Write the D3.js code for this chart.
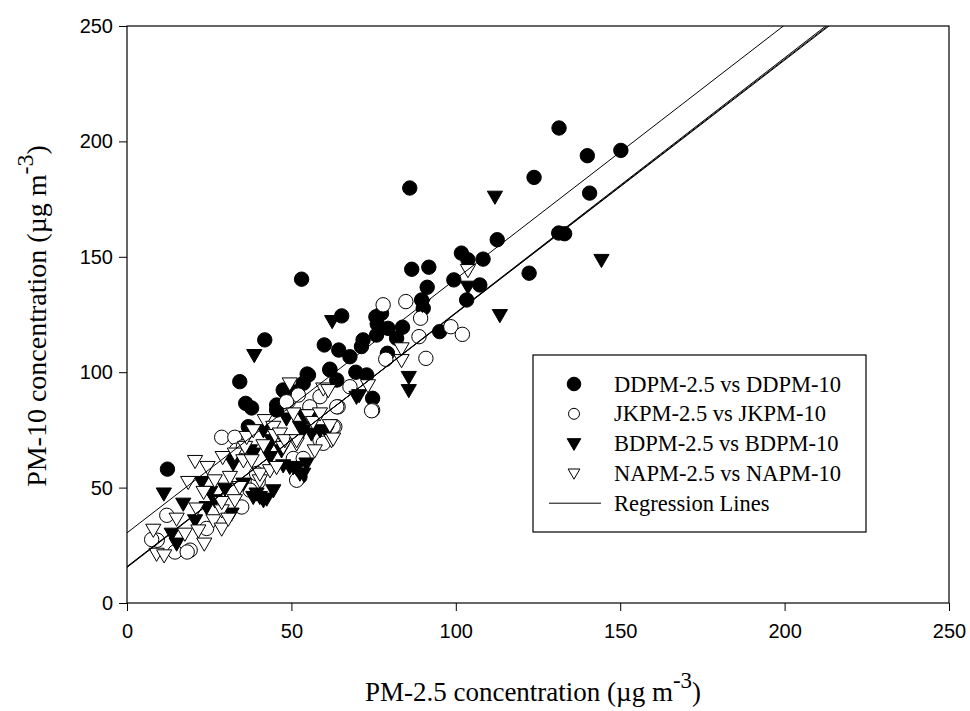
<!DOCTYPE html>
<html>
<head>
<meta charset="utf-8">
<script src="https://cdn.jsdelivr.net/npm/d3@7"></script>
<style>
  body { margin: 0; background: #fff; }
  .tick text { font-family: Arial, "Liberation Sans", sans-serif; font-size: 20px; }
  .title, .legend text { font-family: "Times New Roman", "Liberation Serif", serif; }
</style>
</head>
<body>
<div id="chart"></div>
<script>
// ---- data (PM-2.5, PM-10) ----
const ddpm = [[12.3,58],[34.3,95.9],[36.1,86.5],[37.9,84.5],[41.9,114],[36.9,76.4],[45.5,83.6],[48,91.5],[51.6,91.5],
  [53.6,95.2],[55.2,98.8],[55.6,80.7],[52.6,54.7],[53.1,140.3],[65.3,124.4],[60,111.8],[61.7,101],[63.8,96.6],[64.4,109.6],
  [67.8,106.7],[71.3,111.1],[71.8,114],[69.6,100],[72.9,98.8],[74.7,88.7],[75.7,124],[76.1,120.9],[77.4,125.5],[75.9,116.1],
  [79.4,119],[83.8,119.5],[82,114.7],[79.2,108.2],[86,179.8],[86.6,144.6],[91.8,145.5],[91.3,136.8],[89.6,131.3],[90.1,127.7],
  [95.1,117.6],[99.4,140],[101.7,151.6],[103.7,148.7],[108.3,149],[107.3,137.8],[103.3,131.3],[112.6,157.4],[122.3,142.9],
  [123.8,184.4],[131.4,205.8],[140,193.8],[150.2,196.1],[140.7,177.6],[131.3,160.3],[133.1,160],[47.5,92.3],[45.5,85.8],
  [54.8,99.2],[61.7,101.3]];
const jkpm = [[12.1,38],[9.2,27.2],[7.5,27.5],[14.6,22.1],[19.2,22.9],[18.3,22.1],[24.2,32.3],[28.8,71.8],[32.8,71.8],
  [33.3,66.2],[35.4,67.7],[34.9,41.6],[39.9,52.5],[39.4,56.1],[37.4,48.9],[49,87.2],[52.1,90.1],[55.6,85],[58.7,89.4],
  [64.2,85],[63.2,76.4],[58.7,70.6],[59.7,69.2],[62.7,76.4],[67.8,93.7],[50.6,62.6],[53.6,62.6],[51.6,53.2],[48.5,87.2],
  [63.8,85],[74.7,83.6],[74.4,83.3],[77.9,129.2],[84.8,130.6],[89.3,123.4],[88.8,115.4],[90.9,106],[78.7,105.6],
  [98.5,119.7],[102,116.4]];
const bdpm = [[11.2,47.5],[13.6,30.1],[15.1,25.8],[17.1,43.1],[20.7,35.9],[22.7,52.5],[24.2,41.6],[25.3,48.2],[26.7,44.6],
  [29.8,49.6],[31.8,38.8],[32.3,61.9],[32.3,60.5],[35.4,51.8],[37.4,66.2],[38.4,64.8],[38.4,46],[39.4,47.5],[40.4,46],
  [41.5,44.6],[42.5,45.3],[44.5,48.9],[41.5,74.9],[43.5,63.3],[42.9,67.7],[44,70.6],[47,66.2],[47.5,59.7],[48.5,80],
  [49.5,59],[50.6,59],[51.6,58.3],[52.6,56.1],[53.6,56.1],[54.6,60.5],[52.6,76.4],[53.6,74.9],[56.1,73.5],[58.7,74.9],
  [60.7,74.2],[53.6,81.4],[38.7,107.5],[62.4,122.2],[69.8,89.4],[70.6,90.1],[85.7,98],[85.7,92.3],[89.9,129.2],
  [103.7,137.1],[113.4,124.8],[111.9,176.1],[144.3,148.7]];
const napm = [[8,31.8],[9,21.4],[11.3,20.7],[15.1,36.6],[17.6,30.1],[18.6,52.5],[20.7,61.6],[21.2,41],[21.7,31.5],
  [23.3,48.2],[23.5,25.8],[24.5,59],[26.3,35.9],[26.7,53.2],[28.8,32.3],[28.8,40.2],[28.8,43.8],[29.1,63.3],[30.8,36.6],
  [31.3,54.7],[32.8,44.6],[32.8,64.8],[34.3,50.3],[35.4,61.9],[35.9,67.7],[36.4,72],[37.9,61.9],[38.4,74.9],[40.4,53.2],
  [40.4,56.1],[41.5,68.4],[41.9,79.3],[43.5,57.6],[44.5,76.4],[45,72.8],[45.5,59],[46.5,73.5],[47.5,67.7],[48,70.6],
  [49.5,95.2],[50.6,82.2],[51.6,69.2],[51.6,70.6],[55.1,81.4],[56.6,78.5],[57.1,66.2],[58.7,82.2],[59.7,93],[61.2,92.3],
  [61.7,77.1],[62.2,70.6],[62.7,71.3],[73.3,94.4],[83.5,105.3],[83.5,110.4],[103.7,144.3]];

// regression lines [intercept, slope]
const regressions = [[30.4, 1.1], [15.8, 1.097], [15.6, 1.1], [15.4, 1.104]];

const xTicks = [0, 50, 100, 150, 200, 250];
const yTicks = [0, 50, 100, 150, 200, 250];

const legendLabels = ['DDPM-2.5 vs DDPM-10', 'JKPM-2.5 vs JKPM-10', 'BDPM-2.5 vs BDPM-10', 'NAPM-2.5 vs NAPM-10', 'Regression Lines'];

const series = [
  {data: ddpm, shape: 'circle', fill: '#000'},
  {data: jkpm, shape: 'circle', fill: '#fff'},
  {data: bdpm, shape: 'tri', fill: '#000'},
  {data: napm, shape: 'tri', fill: '#fff'}
];

const width = 970, height = 711;
const margin = {top: 26, right: 21, bottom: 108, left: 127};
const innerW = width - margin.left - margin.right;
const innerH = height - margin.top - margin.bottom;

const svg = d3.select('#chart').append('svg')
    .attr('width', width)
    .attr('height', height);

const chart = svg.append('g')
    .attr('transform', `translate(${margin.left},${margin.top})`);

const x = d3.scaleLinear().domain([0, 250]).range([0, innerW]);
const y = d3.scaleLinear().domain([0, 250]).range([innerH, 0]);

svg.append('defs').append('clipPath').attr('id', 'plot-clip')
  .append('rect').attr('width', innerW).attr('height', innerH);

// axes
const xAxis = chart.append('g')
    .attr('transform', `translate(0,${innerH})`)
    .call(d3.axisBottom(x).tickValues(xTicks).tickSize(8).tickPadding(13).tickSizeOuter(0));
const yAxis = chart.append('g')
    .call(d3.axisLeft(y).tickValues(yTicks).tickSize(8).tickPadding(6).tickSizeOuter(0));
[xAxis, yAxis].forEach(a => {
  a.select('.domain').remove();
  a.selectAll('.tick line').attr('stroke', '#000');
  a.selectAll('.tick text').attr('fill', '#000');
});

// frame
chart.append('rect')
    .attr('width', innerW)
    .attr('height', innerH)
    .attr('fill', 'none')
    .attr('stroke', '#000')
    .attr('stroke-width', 1.2);

// points
const triPath = d3.symbol().type(d3.symbolTriangle).size(100);
const plot = chart.append('g').attr('clip-path', 'url(#plot-clip)');

series.forEach(s => {
  const g = plot.append('g');
  if (s.shape === 'circle') {
    g.selectAll('circle')
        .data(s.data)
      .join('circle')
        .attr('cx', d => x(d[0]))
        .attr('cy', d => y(d[1]))
        .attr('r', 7.2)
        .attr('fill', s.fill)
        .attr('stroke', '#000')
        .attr('stroke-width', 1);
  } else {
    g.selectAll('path')
        .data(s.data)
      .join('path')
        .attr('d', triPath)
        .attr('transform', d => `translate(${x(d[0])},${y(d[1]) - 1}) rotate(180)`)
        .attr('fill', s.fill)
        .attr('stroke', '#000')
        .attr('stroke-width', 1);
  }
});

// regression lines
const line = d3.line().x(d => x(d[0])).y(d => y(d[1]));
plot.selectAll('.reg')
    .data(regressions)
  .join('path')
    .attr('class', 'reg')
    .attr('d', r => line([[0, r[0]], [250, r[0] + r[1] * 250]]))
    .attr('fill', 'none')
    .attr('stroke', '#000')
    .attr('stroke-width', 1);

// legend
const legend = svg.append('g').attr('class', 'legend')
    .attr('transform', 'translate(533,355)');
legend.append('rect')
    .attr('width', 333)
    .attr('height', 177)
    .attr('fill', '#fff')
    .attr('stroke', '#000')
    .attr('stroke-width', 1.2);

const rowY = i => 29 + i * 29.8;
legendLabels.forEach((label, i) => {
  const row = legend.append('g').attr('transform', `translate(0,${rowY(i)})`);
  if (i < 4) {
    const s = series[i];
    if (s.shape === 'circle') {
      row.append('circle').attr('cx', 41).attr('cy', 0)
          .attr('r', s.fill === '#000' ? 6.8 : 5.5)
          .attr('fill', s.fill).attr('stroke', '#000').attr('stroke-width', 1);
    } else {
      row.append('path').attr('d', d3.symbol().type(d3.symbolTriangle).size(s.fill === '#000' ? 80 : 60))
          .attr('transform', 'translate(41,-1) rotate(180)')
          .attr('fill', s.fill).attr('stroke', '#000').attr('stroke-width', 1);
    }
  } else {
    row.append('line').attr('x1', 16).attr('x2', 68).attr('y1', 0).attr('y2', 0)
        .attr('stroke', '#000').attr('stroke-width', 1);
  }
  row.append('text')
      .attr('x', 81)
      .attr('y', 7.5)
      .style('font-size', '22.5px')
      .text(label);
});

// axis titles
const xTitle = svg.append('text')
    .attr('class', 'title')
    .attr('x', 533)
    .attr('y', 701)
    .attr('text-anchor', 'middle')
    .style('font-size', '27px');
xTitle.append('tspan').text('PM-2.5 concentration (\u00b5g m');
xTitle.append('tspan').attr('dy', -13).style('font-size', '23px').text('-3');
xTitle.append('tspan').attr('dy', 13).text(')');

const yTitle = svg.append('text')
    .attr('class', 'title')
    .attr('transform', `translate(46,316) rotate(-90)`)
    .attr('text-anchor', 'middle')
    .style('font-size', '28px');
yTitle.append('tspan').text('PM-10 concentration (\u00b5g m');
yTitle.append('tspan').attr('dy', -13).style('font-size', '24px').text('-3');
yTitle.append('tspan').attr('dy', 13).text(')');
</script>
</body>
</html>
